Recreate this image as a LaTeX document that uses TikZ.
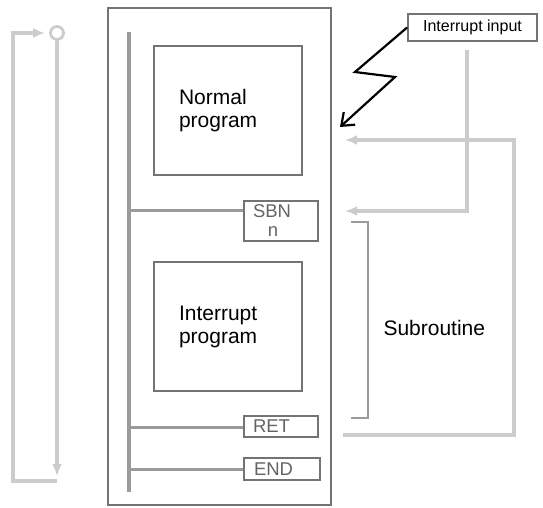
\documentclass[tikz,border=0pt]{standalone}
\usepackage{fontspec}
\setmainfont{Liberation Sans}
\usetikzlibrary{arrows.meta,positioning,calc}
\definecolor{loopgray}{RGB}{204,204,204}
\definecolor{boxgray}{RGB}{115,115,115}
\definecolor{railgray}{RGB}{155,155,155}
\definecolor{instrgray}{RGB}{100,100,100}

\begin{document}
\begin{tikzpicture}[x=1pt,y=-1pt]
\tikzstyle{prog}=[draw=boxgray, line width=1.8pt, minimum width=148pt, minimum height=129pt, inner sep=0pt, text width=98pt, align=left, font=\fontsize{21}{23}\selectfont]
\tikzstyle{instr}=[draw=boxgray, line width=1.8pt, minimum width=74pt, inner xsep=9pt, inner ysep=0pt, text width=56pt, align=left, text=instrgray, font=\fontsize{18.5}{19}\selectfont]
\tikzstyle{flow}=[draw=loopgray, line width=3.4pt, -{Latex[length=12pt,width=10pt]}]
\useasboundingbox (0,0) rectangle (543,507);

% PLC program frame and power rail
\draw[boxgray, line width=1.8pt] (108,8) rectangle (331,505);
\coordinate (railtop) at (129,32);
\coordinate (railbot) at (129,492);
\draw[railgray, line width=3.2pt] (railtop) -- (railbot);

\node[prog] (normal) at (228,110.5) {Normal\\program};
\node[prog] (intr) at (228,326.5) {Interrupt\\program};
\node[instr, minimum height=40pt] (sbn) at (281,221) {SBN\\\makebox[40pt]{n}};
\node[instr, minimum height=21pt] (ret) at (281,426.5) {RET};
\node[instr, minimum height=22pt, minimum width=76pt] (endi) at (282,469) {END};

% rungs
\draw[railgray, line width=3pt] (129,210) -- (129,210 -| sbn.west);
\draw[railgray, line width=3pt] (129,427) -- (129,427 -| ret.west);
\draw[railgray, line width=3pt] (129,469) -- (129,469 -| endi.west);

% scan cycle
\node[circle, draw=loopgray, line width=2.8pt, minimum size=13pt, inner sep=0pt] (scan) at (57,33) {};
\coordinate (scanend) at (57,476);
\draw[flow] (scan) -- (scanend);
\draw[flow, shorten >=4pt] (57,481) -- (13,481) -- (13,33) -- (scan.west);

% interrupt
\node[draw=boxgray, line width=1.8pt, minimum width=129pt, minimum height=27pt, inner sep=0pt, font=\fontsize{16}{18}\selectfont] (input) at (472.5,27.5) {Interrupt input};
\draw[black, line width=2.2pt, -{Straight Barb[length=11pt,width=17pt]}] (input.west) -- (355,72) -- (395,77) -- (340,127);
\coordinate (jumpin) at (345,211);
\draw[flow] (467,50) -- (467,211) -- (jumpin);
\coordinate (retout) at (343,435);
\coordinate (back) at (345,140);
\draw[flow] (retout) -- (514,435) -- (514,140) -- (back);

% subroutine bracket
\draw[railgray, line width=2.6pt] (351,222) -- (368,222) -- (368,418) -- (351,418);
\node[anchor=west, font=\fontsize{21}{23}\selectfont] (subr) at (380,328) {Subroutine};
\end{tikzpicture}
\end{document}
